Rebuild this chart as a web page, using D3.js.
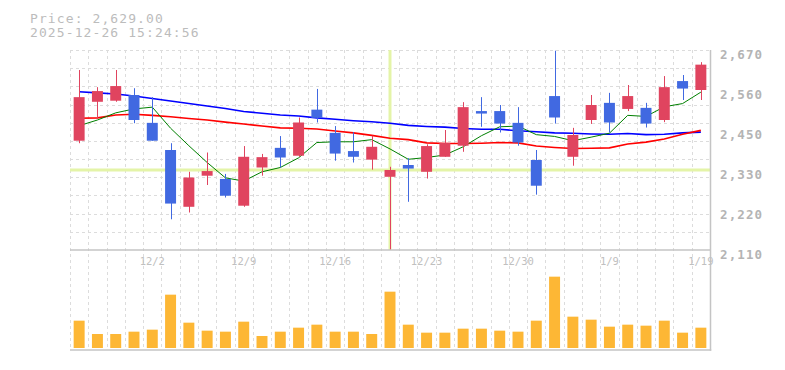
<!DOCTYPE html>
<html>
<head>
<meta charset="utf-8">
<script src="https://cdn.jsdelivr.net/npm/d3@7"></script>
<style>
  html, body { margin: 0; padding: 0; background: #fff; }
  svg { display: block; }
  text { font-family: "DejaVu Sans Mono", "Liberation Mono", monospace; }
</style>
</head>
<body>
<svg id="chart" width="785" height="370"></svg>
<script>
// ---------- data ----------
const dates = ["11/26","11/27","11/28","12/1","12/2","12/3","12/4","12/5","12/8","12/9",
  "12/10","12/11","12/12","12/15","12/16","12/17","12/18","12/19","12/22","12/23",
  "12/24","12/25","12/26","12/29","12/30","1/5","1/6","1/7","1/8","1/9",
  "1/13","1/14","1/15","1/16","1/19"];
const opens  = [2416,2525,2528,2544,2466,2390,2231,2318,2309,2234,2341,2396,2374,2503,2438,2387,2363,2315,2348,2329,2371,2402,2499,2499,2466,2362,2541,2371,2474,2522,2505,2508,2474,2583,2558];
const highs  = [2614,2566,2614,2563,2538,2409,2329,2383,2323,2401,2379,2429,2481,2561,2457,2440,2430,2343,2367,2406,2446,2524,2538,2516,2510,2390,2668,2452,2544,2550,2572,2522,2597,2600,2636];
const lows   = [2409,2477,2525,2465,2416,2196,2215,2292,2257,2231,2318,2341,2371,2467,2360,2355,2335,2112,2245,2310,2371,2385,2455,2439,2402,2265,2464,2346,2463,2439,2499,2453,2468,2530,2530];
const closes = [2538,2555,2569,2474,2416,2240,2313,2331,2262,2371,2370,2369,2467,2480,2380,2371,2399,2334,2338,2401,2410,2510,2492,2464,2411,2290,2481,2432,2516,2467,2541,2464,2566,2562,2629];
const ma5    = [2458,2474,2494,2505,2510,2451,2402,2355,2312,2303,2329,2341,2368,2411,2413,2413,2419,2393,2364,2369,2376,2399,2430,2455,2457,2433,2428,2416,2426,2437,2487,2484,2511,2520,2552];
const ma25   = [2479,2480,2488,2490,2487,2483,2478,2474,2468,2463,2457,2452,2451,2449,2443,2438,2431,2423,2419,2410,2408,2408,2409,2411,2410,2401,2397,2394,2395,2396,2407,2412,2421,2434,2445];
const ma75   = [2553,2550,2547,2541,2534,2527,2520,2513,2506,2498,2493,2488,2485,2480,2476,2472,2469,2465,2459,2456,2454,2450,2448,2448,2444,2441,2438,2437,2435,2434,2436,2433,2434,2438,2440];
const volumes = [41000,21000,21000,24500,27500,80000,38000,26000,24500,39500,18000,24500,30500,35000,24500,24500,21000,84500,35000,23000,23000,29000,29000,26000,24500,41000,107000,47000,42500,32000,35000,33500,41000,23000,30500];
const xTickLabels = ["12/2","12/9","12/16","12/23","12/30","1/9","1/19"];
const yTickValues = [2110,2222,2334,2446,2558,2670];
const yTickLabels = ["2,110","2,220","2,330","2,450","2,560","2,670"];
const headerLines = ["Price: 2,629.00","2025-12-26 15:24:56"];
const cursorIndex = 17;
const cursorPrice = 2334;

// ---------- layout ----------
const L = 70, R = 710, PT = 50, PB = 250, VB = 350;
const svg = d3.select("#chart");

const x = d3.scaleBand().domain(d3.range(dates.length)).range([L, R])
  .paddingInner(0.4).paddingOuter(0.2);
const step = x.step();
const cx = i => x(i) + x.bandwidth() / 2;
const y = d3.scaleLinear().domain([2110, 2670]).range([PB, PT]);
const yv = d3.scaleLinear().domain([0, 150000]).range([VB - 2, VB - 102]);

// ---------- grid ----------
const grid = svg.append("g").attr("stroke", "#dcdcdc").attr("stroke-dasharray", "3,3")
  .attr("shape-rendering", "crispEdges");
for (let k = 0; k < dates.length; k++) {
  const gx = Math.round(L + k * step) + 0.5;
  grid.append("line").attr("x1", gx).attr("x2", gx).attr("y1", PT).attr("y2", VB);
}
const nH = 11;
for (let k = 0; k < nH; k++) {
  const gy = Math.round(PT + k * (PB - PT) / nH) + 0.5;
  grid.append("line").attr("x1", L).attr("x2", R).attr("y1", gy).attr("y2", gy);
}

// ---------- cursor ----------
svg.append("line").attr("x1", cx(cursorIndex)).attr("x2", cx(cursorIndex))
  .attr("y1", PT).attr("y2", PB).attr("stroke", "#e4f4a8").attr("stroke-width", 3);
svg.append("line").attr("x1", L).attr("x2", R).attr("y1", y(cursorPrice)).attr("y2", y(cursorPrice))
  .attr("stroke", "#e4f4a8").attr("stroke-width", 3);

// ---------- axes frame ----------
const frame = svg.append("g").attr("stroke", "#c4c4c4").attr("stroke-width", 1.5);
frame.append("line").attr("x1", R + 0.5).attr("x2", R + 0.5).attr("y1", PT).attr("y2", VB + 0.75);
frame.append("line").attr("x1", L).attr("x2", R).attr("y1", PB).attr("y2", PB);
frame.append("line").attr("x1", L).attr("x2", R + 1.25).attr("y1", VB).attr("y2", VB);

// y axis labels (right)
const yAxis = d3.axisRight(y).tickValues(yTickValues)
  .tickFormat((d, i) => yTickLabels[i]).tickSize(0).tickPadding(10);
const ya = svg.append("g").attr("transform", `translate(${R},0)`).call(yAxis);
ya.select(".domain").remove();
ya.selectAll("text").attr("fill", "#b4b4b4").attr("font-size", 12.5)
  .attr("font-family", "DejaVu Sans Mono").attr("font-weight", "bold")
  .attr("letter-spacing", "1.1px").attr("dy", "0.66em");

// x axis labels
const xIdx = xTickLabels.map(l => dates.indexOf(l));
const xAxis = d3.axisBottom(x).tickValues(xIdx).tickFormat(i => dates[i]).tickSize(0).tickPadding(8);
const xa = svg.append("g").attr("transform", `translate(0,${PB})`).call(xAxis);
xa.select(".domain").remove();
xa.selectAll("text").attr("fill", "#c0c0c0").attr("font-size", 10.5)
  .attr("font-family", "DejaVu Sans Mono");

// ---------- volume ----------
svg.append("g").selectAll("rect").data(volumes).join("rect")
  .attr("x", (d, i) => x(i)).attr("width", x.bandwidth())
  .attr("y", d => yv(d)).attr("height", d => yv(0) - yv(d))
  .attr("fill", "#fdb735");

// ---------- moving averages ----------
const lineGen = arr => d3.line().x((d, i) => cx(i)).y(d => y(d))(arr);
svg.append("path").attr("d", lineGen(ma75)).attr("fill", "none").attr("stroke", "#0000ff").attr("stroke-width", 1.6);
svg.append("path").attr("d", lineGen(ma25)).attr("fill", "none").attr("stroke", "#ff0000").attr("stroke-width", 1.6);
svg.append("path").attr("d", lineGen(ma5)).attr("fill", "none").attr("stroke", "#008000").attr("stroke-width", 1);

// ---------- candles ----------
const upC = "#e0445f", dnC = "#4169e1";
const cg = svg.append("g").selectAll("g").data(dates.map((d, i) => i)).join("g");
cg.append("line")
  .attr("x1", i => Math.round(cx(i)) + 0.5).attr("x2", i => Math.round(cx(i)) + 0.5)
  .attr("y1", i => y(highs[i])).attr("y2", i => y(lows[i]))
  .attr("stroke", i => closes[i] >= opens[i] ? upC : dnC).attr("stroke-width", 1);
cg.append("rect")
  .attr("x", i => x(i)).attr("width", x.bandwidth())
  .attr("y", i => y(Math.max(opens[i], closes[i])))
  .attr("height", i => Math.max(1, Math.abs(y(opens[i]) - y(closes[i]))))
  .attr("fill", i => closes[i] >= opens[i] ? upC : dnC);

// ---------- header ----------
svg.append("g").selectAll("text").data(headerLines).join("text")
  .attr("x", 30).attr("y", (d, i) => 22.7 + i * 14.6)
  .attr("fill", "#bcbcbc").attr("font-size", 13).attr("letter-spacing", "1.1px")
  .text(d => d);
</script>
</body>
</html>
